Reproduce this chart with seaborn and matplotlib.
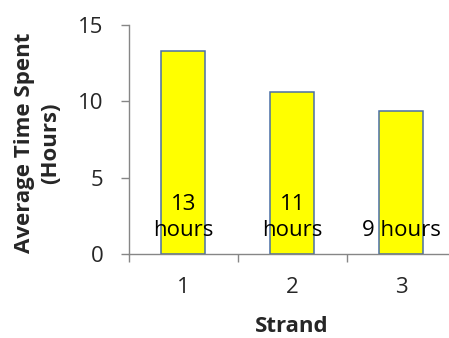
import matplotlib
matplotlib.use("Agg")
import matplotlib.pyplot as plt
import seaborn as sns
import pandas as pd

# Data
strands = ["1", "2", "3"]
avg_hours = [13.25, 10.58, 9.33]
bar_labels = ["13\nhours", "11\nhours", "9 hours"]
y_ticks = [0, 5, 10, 15]

sns.set_theme(style="white")
plt.rcParams['font.family'] = ['Open Sans', 'DejaVu Sans']

df = pd.DataFrame({"Strand": strands, "Hours": avg_hours})

fig = plt.figure(figsize=(4.49, 3.38), dpi=100)
ax = fig.add_axes([128.7 / 449, 84 / 338, 327 / 449, 229.3 / 338])

sns.barplot(data=df, x="Strand", y="Hours", ax=ax, color="#ffff00",
            width=0.4, edgecolor="#4a6fa5", linewidth=1.1, saturation=1)

fs = 16
for p, lab in zip(ax.patches, bar_labels):
    ax.text(p.get_x() + p.get_width() / 2, 0.82, lab, ha="center", va="bottom",
            fontsize=fs, color="black", linespacing=1.35)

ax.set_xlim(-0.5, 2.5)
ax.set_ylim(0, 15)
ax.set_yticks(y_ticks)
ax.set_yticklabels([str(t) for t in y_ticks], fontsize=fs)
ax.set_xticks([0, 1, 2])
ax.set_xticklabels(strands, fontsize=fs)
ax.set_xticks([-0.5, 0.5, 1.5, 2.5], minor=True)
ax.tick_params(axis="x", which="major", length=0, pad=16.5)
ax.tick_params(axis="x", which="minor", length=6, width=1.0, color="#868686", direction="out", bottom=True)
ax.tick_params(axis="y", which="major", length=6, width=1.0, color="#868686", direction="out", left=True, pad=12)

for s in ["top", "right"]:
    ax.spines[s].set_visible(False)
for s in ["left", "bottom"]:
    ax.spines[s].set_color("#868686")
    ax.spines[s].set_linewidth(1.0)

ax.set_xlabel("Strand", fontsize=fs, fontweight="bold", va="center")
ax.set_ylabel("Average Time Spent\n(Hours)", fontsize=fs, fontweight="bold", va="center", linespacing=1.3)
ax.xaxis.set_label_coords(0.5, -0.318)
ax.yaxis.set_label_coords(-0.279, 0.484)

fig.savefig("out.png", dpi=100)
